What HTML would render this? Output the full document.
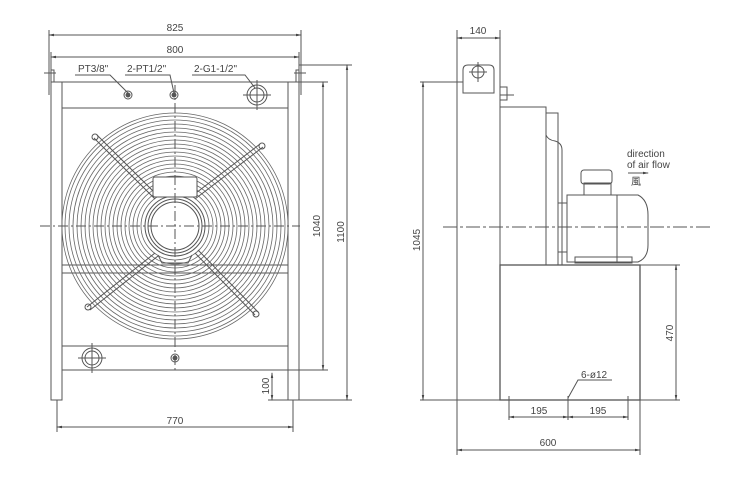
<!DOCTYPE html>
<html><head><style>
html,body{margin:0;padding:0;background:#fff;}
svg{display:block;}
text{font-family:"Liberation Sans",sans-serif;fill:#444;font-size:10px;}
</style></head><body>
<svg width="749" height="477" viewBox="0 0 749 477" xmlns="http://www.w3.org/2000/svg">
<defs>
<marker id="a" markerWidth="6" markerHeight="6" refX="5" refY="3" orient="auto-start-reverse"><path d="M0,1.8 L6,3 L0,4.2Z" fill="#444"/></marker>
<clipPath id="c"><rect x="62" y="108" width="226" height="238"/></clipPath>
</defs>
<g stroke="#555" stroke-width="1" fill="none">
<line x1="49" y1="35" x2="301" y2="35" marker-start="url(#a)" marker-end="url(#a)"/>
<line x1="51" y1="57" x2="299" y2="57" marker-start="url(#a)" marker-end="url(#a)"/>
<line x1="49" y1="30" x2="49" y2="95"/><line x1="301" y1="30" x2="301" y2="95"/>
<line x1="51" y1="52" x2="51" y2="70"/><line x1="299" y1="52" x2="299" y2="70"/>
<line x1="44" y1="73" x2="56" y2="73"/><line x1="294" y1="73" x2="306" y2="73"/>
<rect x="51" y="82" width="11" height="318"/>
<rect x="288" y="82" width="11" height="318"/>
<rect x="51" y="70" width="3" height="12"/><rect x="296" y="70" width="3" height="12"/>
<line x1="62" y1="82" x2="288" y2="82"/>
<line x1="62" y1="108" x2="288" y2="108"/>
<line x1="62" y1="265" x2="288" y2="265"/>
<line x1="62" y1="273" x2="288" y2="273"/>
<line x1="62" y1="346" x2="288" y2="346"/>
<line x1="62" y1="370" x2="288" y2="370"/>
<g clip-path="url(#c)" stroke="#666" stroke-width="0.8">
<circle cx="175" cy="226" r="113"/><circle cx="175" cy="226" r="110"/>
<circle cx="175" cy="226" r="106"/><circle cx="175" cy="226" r="102"/>
<circle cx="175" cy="226" r="98"/><circle cx="175" cy="226" r="94"/>
<circle cx="175" cy="226" r="90"/><circle cx="175" cy="226" r="86"/>
<circle cx="175" cy="226" r="82"/><circle cx="175" cy="226" r="78"/>
<circle cx="175" cy="226" r="74"/><circle cx="175" cy="226" r="70"/>
<circle cx="175" cy="226" r="66"/><circle cx="175" cy="226" r="62"/>
<circle cx="175" cy="226" r="58"/><circle cx="175" cy="226" r="54"/>
<circle cx="175" cy="226" r="50"/><circle cx="175" cy="226" r="46"/>
<circle cx="175" cy="226" r="42"/><circle cx="175" cy="226" r="38"/>
<circle cx="175" cy="226" r="34"/>
</g>
<line x1="94" y1="138" x2="155" y2="199"/><line x1="97" y1="135" x2="158" y2="196"/>
<line x1="263" y1="147" x2="195" y2="199"/><line x1="260" y1="144" x2="192" y2="196"/>
<line x1="87" y1="307" x2="155" y2="253"/><line x1="90" y1="310" x2="158" y2="256"/>
<line x1="255" y1="315" x2="195" y2="253"/><line x1="258" y1="312" x2="198" y2="250"/>
<circle cx="95" cy="137" r="3"/><circle cx="262" cy="146" r="3"/>
<circle cx="88" cy="307" r="3"/><circle cx="256" cy="314" r="3"/>
<circle cx="175" cy="226" r="30" fill="#fff"/>
<circle cx="175" cy="226" r="27"/>
<circle cx="175" cy="226" r="24"/>
<rect x="153" y="177" width="44" height="20" rx="2" fill="#fff"/>
<path d="M158,255 L162,263 L188,263 L192,255"/>
<line x1="40" y1="226" x2="300" y2="226" stroke-dasharray="10,3,2,3"/>
<line x1="175" y1="85" x2="175" y2="372" stroke-dasharray="10,3,2,3"/>
<circle cx="128" cy="95" r="4"/><circle cx="128" cy="95" r="2" fill="#555"/>
<circle cx="174" cy="95" r="4"/><circle cx="174" cy="95" r="2" fill="#555"/>
<circle cx="257" cy="95" r="10"/><circle cx="257" cy="95" r="7"/>
<line x1="243" y1="95" x2="271" y2="95"/><line x1="257" y1="80" x2="257" y2="110"/>
<circle cx="92" cy="358" r="10"/><circle cx="92" cy="358" r="7"/>
<line x1="78" y1="358" x2="106" y2="358"/><line x1="92" y1="343" x2="92" y2="373"/>
<circle cx="175" cy="358" r="4"/><circle cx="175" cy="358" r="2" fill="#555"/>
<polyline points="75,75 110,75 128,93"/>
<polyline points="125,75 170,75 174,93"/>
<polyline points="192,75 245,75 255,88"/>
<line x1="299" y1="65" x2="352" y2="65"/>
<line x1="299" y1="82" x2="328" y2="82"/>
<line x1="270" y1="370" x2="328" y2="370"/>
<line x1="268" y1="400" x2="352" y2="400"/>
<line x1="323" y1="82" x2="323" y2="370" marker-start="url(#a)" marker-end="url(#a)"/>
<line x1="347" y1="65" x2="347" y2="400" marker-start="url(#a)" marker-end="url(#a)"/>
<line x1="272" y1="373" x2="272" y2="400" marker-start="url(#a)" marker-end="url(#a)"/>
<line x1="57" y1="400" x2="57" y2="432"/><line x1="293" y1="400" x2="293" y2="432"/>
<line x1="57" y1="427" x2="293" y2="427" marker-start="url(#a)" marker-end="url(#a)"/>

<line x1="457" y1="30" x2="457" y2="455"/>
<line x1="500" y1="30" x2="500" y2="400"/>
<line x1="457" y1="38" x2="500" y2="38" marker-start="url(#a)" marker-end="url(#a)"/>
<path d="M463,93 L463,70 Q463,65 468,65 L489,65 Q494,65 494,70 L494,93 Z"/>
<circle cx="478" cy="72" r="6"/><line x1="469" y1="72" x2="487" y2="72"/><line x1="478" y1="62" x2="478" y2="82"/>
<rect x="500" y="87" width="7" height="13"/><line x1="500" y1="95" x2="514" y2="95"/>
<line x1="420" y1="82" x2="463" y2="82"/>
<rect x="500" y="107" width="46" height="158"/>
<rect x="546" y="113" width="12" height="152"/>
<path d="M546,135 Q548,140 555,141 Q562,143 562,150 L562,265"/>
<rect x="558" y="203" width="9" height="49"/>
<path d="M567,195 L638,195 Q648,200 648,215 L648,245 Q648,258 638,262 L567,262 Z"/>
<line x1="617" y1="195" x2="617" y2="262"/>
<rect x="575" y="257" width="57" height="6"/>
<rect x="584" y="183" width="27" height="12"/>
<rect x="581" y="170" width="31" height="14" rx="3"/>
<line x1="443" y1="227" x2="710" y2="227" stroke-dasharray="14,3,3,3"/>
<line x1="628" y1="173" x2="648" y2="173" marker-end="url(#a)"/>
<rect x="500" y="265" width="140" height="135" stroke-width="1.3"/>
<line x1="640" y1="265" x2="680" y2="265"/>
<line x1="420" y1="400" x2="680" y2="400"/>
<line x1="423" y1="82" x2="423" y2="400" marker-start="url(#a)" marker-end="url(#a)"/>
<line x1="676" y1="265" x2="676" y2="400" marker-start="url(#a)" marker-end="url(#a)"/>
<polyline points="612,380 578,380 568,398"/>
<line x1="509" y1="396" x2="509" y2="420"/><line x1="568" y1="396" x2="568" y2="420"/><line x1="628" y1="396" x2="628" y2="420"/>
<line x1="509" y1="417" x2="568" y2="417" marker-start="url(#a)" marker-end="url(#a)"/>
<line x1="568" y1="417" x2="628" y2="417" marker-start="url(#a)" marker-end="url(#a)"/>
<line x1="640" y1="400" x2="640" y2="455"/>
<line x1="457" y1="450" x2="640" y2="450" marker-start="url(#a)" marker-end="url(#a)"/>
</g>
<text x="175" y="31" text-anchor="middle">825</text>
<text x="175" y="53" text-anchor="middle">800</text>
<text x="78" y="72">PT3/8"</text>
<text x="127" y="72">2-PT1/2"</text>
<text x="194" y="72">2-G1-1/2"</text>
<text x="175" y="424" text-anchor="middle">770</text>
<text transform="translate(320,226) rotate(-90)" text-anchor="middle">1040</text>
<text transform="translate(344,232) rotate(-90)" text-anchor="middle">1100</text>
<text transform="translate(269,386) rotate(-90)" text-anchor="middle">100</text>
<text x="478" y="34" text-anchor="middle">140</text>
<text transform="translate(420,240) rotate(-90)" text-anchor="middle">1045</text>
<text transform="translate(673,333) rotate(-90)" text-anchor="middle">470</text>
<text x="627" y="157">direction</text>
<text x="627" y="168">of air flow</text>
<text x="631" y="185" font-size="8">風</text>
<text x="581" y="378">6-ø12</text>
<text x="539" y="414" text-anchor="middle">195</text>
<text x="598" y="414" text-anchor="middle">195</text>
<text x="548" y="446" text-anchor="middle">600</text>
</svg>
</body></html>
